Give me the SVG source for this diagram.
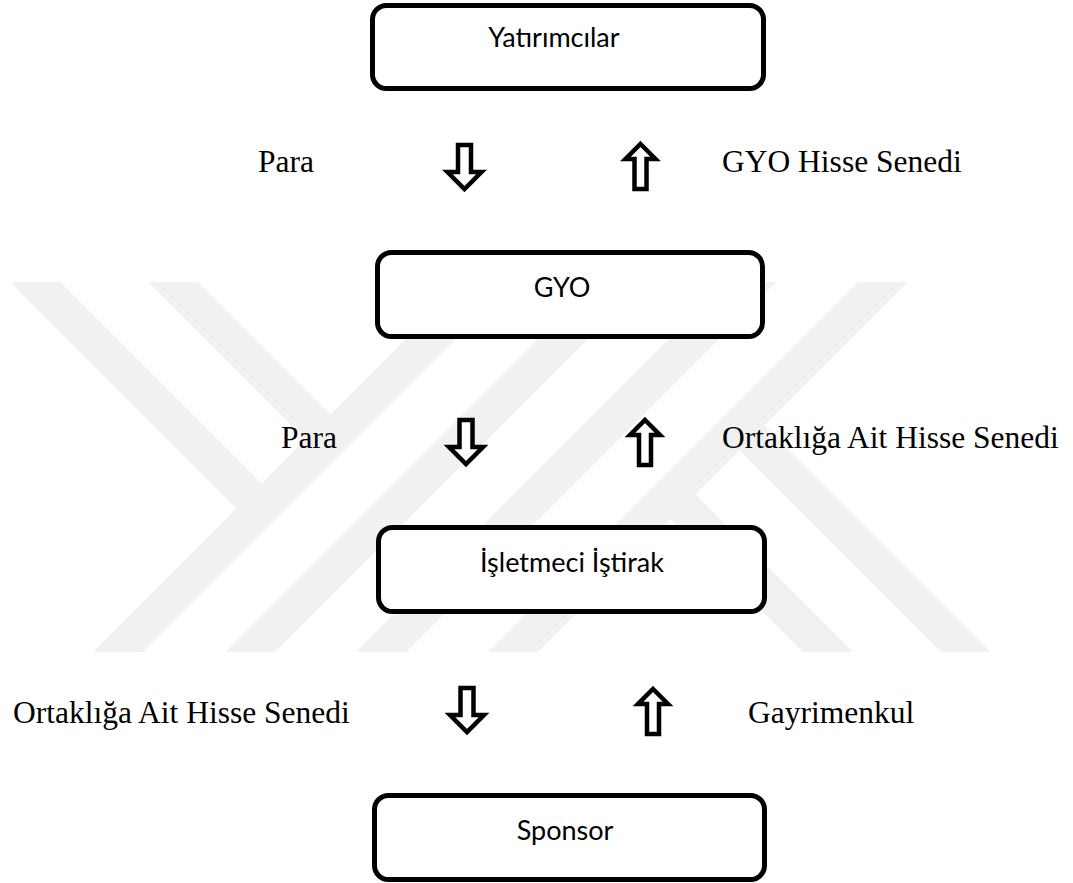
<svg xmlns="http://www.w3.org/2000/svg" width="1073" height="883" viewBox="0 0 1073 883">
<style>
.wm{fill:#f1f1f1;stroke:none}
.box{fill:#fff;stroke:#000;stroke-width:5}
.bt{font-family:Lato,"Open Sans",sans-serif;font-size:27px;fill:#000;text-anchor:middle}
.lb{font-family:"Liberation Serif","Times New Roman",serif;font-size:31.5px;font-weight:normal;fill:#000}
.arr{fill:#fff;stroke:#000;stroke-width:4.5;stroke-linejoin:miter}
</style>
<defs>
<path id="down" d="M-6.5,2 H6.5 V29 H17 L0,46 L-17,29 H-6.5 Z"/>
<path id="up" d="M0,2 L15,17 H6 V47 H-6 V17 H-15 Z"/>
</defs>
<rect width="1073" height="883" fill="#fff"/>
<g id="watermark">
<polygon class="wm" points="93,652 143,652 513,282 463,282"/>
<polygon class="wm" points="225,652 275,652 645,282 595,282"/>
<polygon class="wm" points="356,652 406,652 776,282 726,282"/>
<polygon class="wm" points="488,652 538,652 908,282 858,282"/>
<polygon class="wm" points="10,282 60,282 286,508 237,509"/>
<polygon class="wm" points="148,282 198,282 355,439 330,464"/>
<polygon class="wm" points="991,652 941,652 715,426 764,425"/>
<polygon class="wm" points="853,652 803,652 646,495 671,470"/>
</g>
<g id="connectors">
<use href="#down" class="arr" x="464.5" y="143"/>
<use href="#up" class="arr" x="640.5" y="142"/>
<use href="#down" class="arr" x="466" y="418"/>
<use href="#up" class="arr" x="645" y="418"/>
<use href="#down" class="arr" x="467" y="686"/>
<use href="#up" class="arr" x="653" y="687"/>
</g>
<g id="labels">
<text class="lb" x="258" y="172">Para</text>
<text class="lb" x="722" y="172">GYO Hisse Senedi</text>
<text class="lb" x="281" y="448">Para</text>
<text class="lb" x="722" y="448">Ortaklığa Ait Hisse Senedi</text>
<text class="lb" x="13" y="723">Ortaklığa Ait Hisse Senedi</text>
<text class="lb" x="748" y="723">Gayrimenkul</text>
</g>
<g id="node-yatirimcilar">
<rect class="box" x="372.5" y="5.5" width="391" height="83" rx="14"/>
<text class="bt" x="554" y="47">Yatırımcılar</text>
</g>
<g id="node-gyo">
<rect class="box" x="377.5" y="252.5" width="385" height="84" rx="14"/>
<text class="bt" x="562" y="297">GYO</text>
</g>
<g id="node-isletmeci">
<rect class="box" x="378.5" y="527.5" width="386" height="84" rx="14"/>
<text class="bt" x="572" y="572">İşletmeci İştirak</text>
</g>
<g id="node-sponsor">
<rect class="box" x="374.5" y="795.5" width="390" height="84" rx="14"/>
<text class="bt" x="565" y="840">Sponsor</text>
</g>
</svg>
